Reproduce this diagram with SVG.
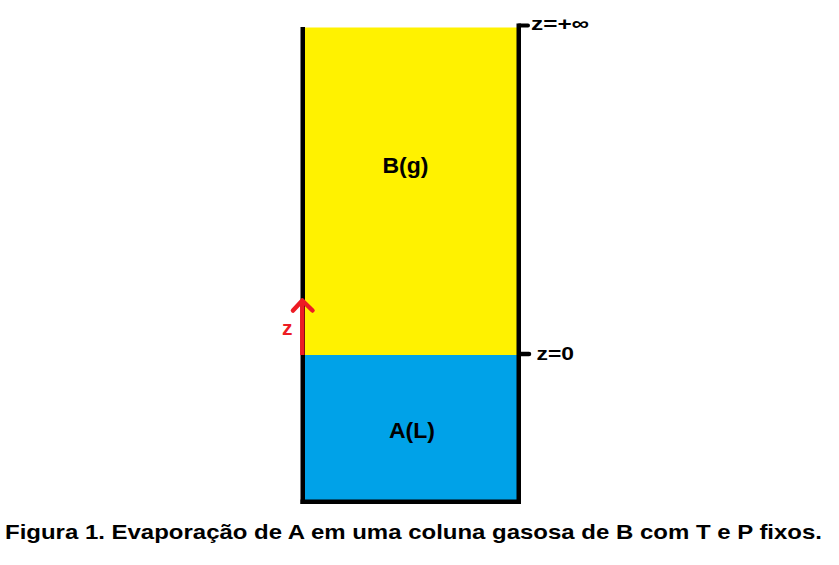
<svg xmlns="http://www.w3.org/2000/svg" width="839" height="565" viewBox="0 0 839 565">
<style>
text { font-family: "Liberation Sans", Arial, sans-serif; font-weight: bold; }
.lbl { fill: #000; }
.red { fill: #ED1C24; }
.wall { fill: #000; }
</style>
<rect width="839" height="565" fill="#fff"/>
<g id="gas-B">
<rect x="305" y="27.5" width="212" height="327.5" fill="#FFF200"/>
<text class="lbl" x="382.5" y="173" font-size="22" textLength="46" lengthAdjust="spacingAndGlyphs">B(g)</text>
</g>
<g id="liquid-A">
<rect x="305" y="355" width="212" height="145" fill="#00A2E8"/>
<text class="lbl" x="389" y="438" font-size="22" textLength="46" lengthAdjust="spacingAndGlyphs">A(L)</text>
</g>
<g id="column-walls">
<rect class="wall" x="300.5" y="27" width="4.5" height="477"/>
<rect class="wall" x="516.5" y="23.5" width="4.5" height="480.5"/>
<rect class="wall" x="300.5" y="499.5" width="220.5" height="4.5"/>
</g>
<g id="marker-top">
<path d="M519 25.5 H528" stroke="#000" stroke-width="4" stroke-linecap="round" fill="none"/>
<text class="lbl" x="531" y="30" font-size="19" textLength="58" lengthAdjust="spacingAndGlyphs">z=+∞</text>
</g>
<g id="marker-zero">
<path d="M520 354 H529" stroke="#000" stroke-width="4.5" stroke-linecap="round" fill="none"/>
<text class="lbl" x="536.5" y="359.5" font-size="19" textLength="37.5" lengthAdjust="spacingAndGlyphs">z=0</text>
</g>
<g id="connectors">
<path d="M302.3 355 V301" stroke="#ED1C24" stroke-width="4.5" fill="none"/>
<path d="M293 310.5 L302.3 300.5 L312.5 310.5" stroke="#ED1C24" stroke-width="4.5" stroke-linecap="round" stroke-linejoin="round" fill="none"/>
<text class="red" x="282" y="334.5" font-size="21">z</text>
</g>
<g id="caption">
<text class="lbl" x="5" y="539.3" font-size="21" textLength="817" lengthAdjust="spacingAndGlyphs">Figura 1. Evaporação de A em uma coluna gasosa de B com T e P fixos.</text>
</g>
</svg>
